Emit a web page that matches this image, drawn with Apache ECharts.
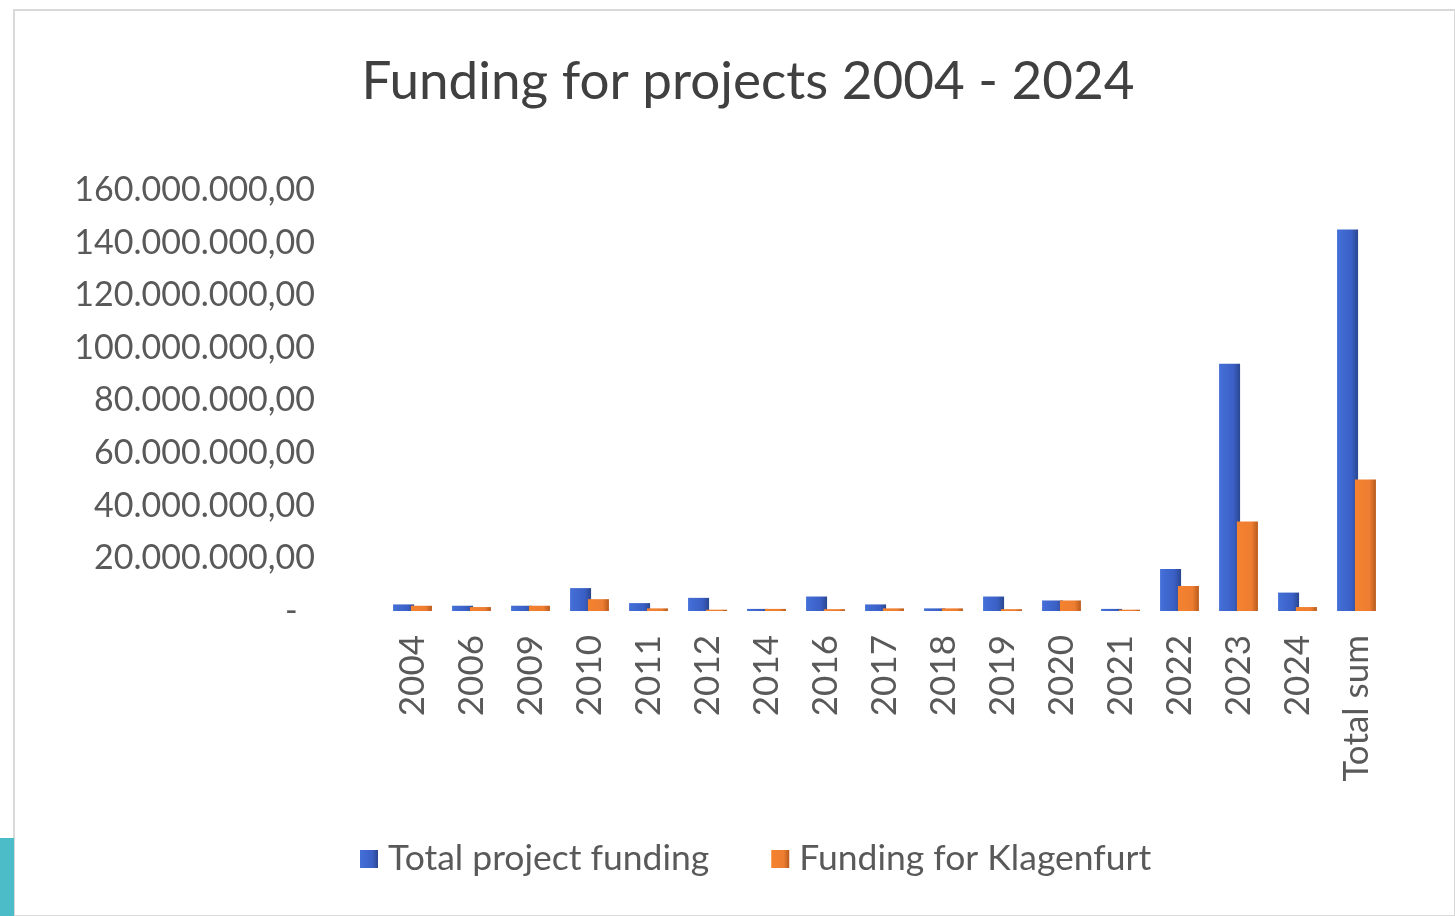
<!DOCTYPE html>
<html><head><meta charset="utf-8">
<script src="https://cdn.jsdelivr.net/npm/echarts@6/dist/echarts.min.js"></script>
<style>html,body{margin:0;padding:0;background:#fff}#c{width:1455px;height:916px}</style>
</head><body><div id="c"></div>
<script>
const categories = ['2004','2006','2009','2010','2011','2012','2014','2016','2017','2018','2019','2020','2021','2022','2023','2024','Total sum'];
const totalFunding = [2.5e6, 2e6, 2e6, 8.7e6, 3e6, 5e6, 0.8e6, 5.5e6, 2.5e6, 1e6, 5.5e6, 4e6, 0.8e6, 16e6, 94e6, 7e6, 145e6];
const klagenfurtFunding = [2e6, 1.5e6, 2e6, 4.5e6, 1e6, 0.5e6, 0.8e6, 0.7e6, 1e6, 1e6, 0.7e6, 4e6, 0.5e6, 9.5e6, 34e6, 1.5e6, 50e6];
const seriesNames = ['Total project funding', 'Funding for Klagenfurt'];

function fmt(v){
  if (v === 0) return '-  ';
  const s = Math.round(v).toString().replace(/\B(?=(\d{3})+(?!\d))/g, '.');
  return s + ',00';
}
const font = 'Lato, "Open Sans", sans-serif';
const chart = echarts.init(document.getElementById('c'));
chart.setOption({
  backgroundColor: '#fff',
  animation: false,
  graphic: [
    {type:'rect', shape:{x:14,y:10,width:1441,height:906}, style:{fill:'#fff', stroke:'#d9d9d9', lineWidth:2}, z:-10},
    {type:'rect', shape:{x:0,y:838,width:14,height:78}, style:{fill:'#4BBCC8'}, z:-5}
  ],
  title: {
    text: 'Funding for projects 2004 - 2024',
    left: 743, top: 50, textAlign: 'center',
    textStyle: {fontFamily: font, fontSize: 53, fontWeight: 'normal', color: '#404040'}
  },
  legend: {
    bottom: 34, left: 355, itemGap: 62, itemWidth: 18, itemHeight: 18, icon: 'rect',
    textStyle: {fontFamily: font, fontSize: 35.5, color: '#595959', padding: [0, 0, 0, 5]},
    data: seriesNames
  },
  grid: {left: 383, right: 69, top: 190, bottom: 305, containLabel: false},
  xAxis: {
    type: 'category', data: categories,
    axisLine: {show: false}, axisTick: {show: false},
    axisLabel: {rotate: 90, fontFamily: font, fontSize: 35, color: '#595959', margin: 24}
  },
  yAxis: {
    type: 'value', min: 0, max: 160e6, interval: 20e6,
    splitLine: {show: false}, axisLine: {show: false}, axisTick: {show: false},
    axisLabel: {formatter: fmt, fontFamily: font, fontSize: 34, color: '#595959', margin: 68}
  },
  series: [
    {name: seriesNames[0], type: 'bar', data: totalFunding, barWidth: 21, barGap: '-15%',
     itemStyle: {color: {type:'linear', x:0,y:0,x2:1,y2:0, colorStops:[{offset:0,color:'#4470D8'},{offset:0.7,color:'#3A5FC4'},{offset:1,color:'#2A468F'}]}},
     z: 2},
    {name: seriesNames[1], type: 'bar', data: klagenfurtFunding, barWidth: 21,
     itemStyle: {color: {type:'linear', x:0,y:0,x2:1,y2:0, colorStops:[{offset:0,color:'#F5822F'},{offset:0.7,color:'#ED7D31'},{offset:1,color:'#B85A1C'}]}},
     z: 3}
  ]
});
</script></body></html>
